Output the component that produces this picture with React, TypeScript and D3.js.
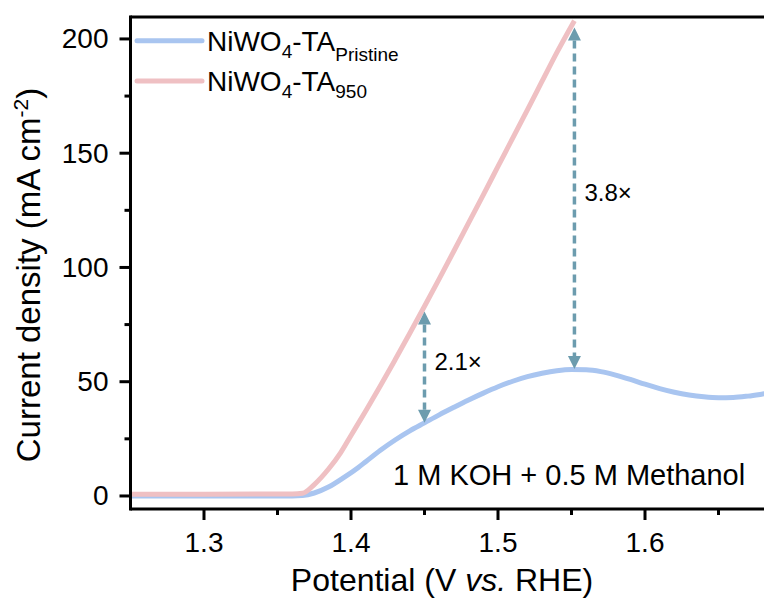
import React from "react";
import * as d3 from "d3";

// LSV data: potential (V vs. RHE) and current density (mA cm^-2)
const potentialPristine = [
  1.25, 1.3, 1.36, 1.367, 1.375, 1.385, 1.395, 1.405, 1.41, 1.42, 1.43, 1.44,
  1.45, 1.46, 1.47, 1.48, 1.49, 1.5, 1.51, 1.52, 1.53, 1.54, 1.55, 1.56, 1.57,
  1.58, 1.59, 1.6, 1.61, 1.62, 1.63, 1.64, 1.65, 1.66, 1.67, 1.68, 1.69, 1.7,
];
const currentPristine = [
  0, 0, 0, 0.2, 1.3, 4, 8, 12.5, 15, 20, 24.5, 28.5, 32, 35.5, 38.8, 42, 45,
  47.8, 50.2, 52.2, 53.7, 54.8, 55.3, 55.2, 54.4, 52.9, 51, 48.9, 47, 45.4,
  44.2, 43.4, 43, 43.1, 43.7, 44.6, 45.6, 46.6,
];

const potential950 = [
  1.25, 1.3, 1.36, 1.367, 1.375, 1.385, 1.393, 1.4, 1.41, 1.42, 1.43, 1.44,
  1.45, 1.46, 1.47, 1.48, 1.49, 1.5, 1.51, 1.52, 1.53, 1.54, 1.552,
];
const current950 = [
  0.8, 0.8, 0.9, 1.2, 5, 12, 19, 26.5, 37.2, 48.2, 59.6, 71.2, 83, 95, 107.2,
  119.5, 131.8, 144.2, 156.6, 169, 181.5, 194, 208,
];

const seriesNames = ["Pristine", "950"];
const seriesColors = ["#a9c5f0", "#efc0c3"];

const xMajorTicks = [1.3, 1.4, 1.5, 1.6];
const xMinorTicks = [1.35, 1.45, 1.55, 1.65];
const yMajorTicks = [0, 50, 100, 150, 200];
const yMinorTicks = [25, 75, 125, 175];

// Enhancement ratio markers
const ratioPotentials = [1.45, 1.552];
const ratioLow = [32, 55.6];
const ratioHigh = [80.7, 205];
const ratioLabels = ["2.1×", "3.8×"];

const W = 764;
const H = 599;
const FONT = "'Liberation Sans', Arial, Helvetica, sans-serif";
const ARROW = "#6c9cae";

export default function App() {
  const left = 130.5;
  const top = 17;
  const bottom = 509;
  const x = d3.scaleLinear().domain([1.25, 1.7]).range([left, left + 661.5]);
  const y = d3.scaleLinear().domain([-5.7, 209.6]).range([bottom, top]);

  const line = d3
    .line<[number, number]>()
    .x((d) => x(d[0]))
    .y((d) => y(d[1]))
    .curve(d3.curveMonotoneX);

  const pristine: [number, number][] = potentialPristine.map((v, i) => [v, currentPristine[i]]);
  const annealed: [number, number][] = potential950.map((v, i) => [v, current950[i]]);

  const head = 13;
  const halfW = 6.5;

  return (
    <svg
      width={W}
      height={H}
      style={{ position: "absolute", left: 0, top: 0, background: "#fff" }}
      fontFamily={FONT}
    >
      {/* curves */}
      <path d={line(pristine) ?? ""} fill="none" stroke={seriesColors[0]} strokeWidth={5} />
      <path d={line(annealed) ?? ""} fill="none" stroke={seriesColors[1]} strokeWidth={5} />

      {/* ratio arrows */}
      {ratioPotentials.map((v, i) => {
        const cx = x(v);
        const yt = y(ratioHigh[i]);
        const yb = y(ratioLow[i]);
        const mid = (yt + yb) / 2;
        return (
          <g key={i}>
            <line
              x1={cx}
              x2={cx}
              y1={yt + head}
              y2={yb - head}
              stroke={ARROW}
              strokeWidth={3.5}
              strokeDasharray="8,5"
            />
            <polygon
              points={`${cx},${yt} ${cx - halfW},${yt + head} ${cx + halfW},${yt + head}`}
              fill={ARROW}
            />
            <polygon
              points={`${cx},${yb} ${cx - halfW},${yb - head} ${cx + halfW},${yb - head}`}
              fill={ARROW}
            />
            <text x={cx + 10} y={mid + 3} fontSize={24} fill="#000">
              {ratioLabels[i]}
            </text>
          </g>
        );
      })}

      {/* frame: left axis, bottom axis, top line */}
      <line x1={left} x2={W} y1={top} y2={top} stroke="#000" strokeWidth={3} />
      <line x1={left} x2={W} y1={bottom} y2={bottom} stroke="#000" strokeWidth={3} />
      <line x1={left} x2={left} y1={top - 1.5} y2={bottom + 1.5} stroke="#000" strokeWidth={3} />

      {/* y ticks */}
      {yMajorTicks.map((t) => (
        <g key={"ym" + t}>
          <line x1={left - 11} x2={left} y1={y(t)} y2={y(t)} stroke="#000" strokeWidth={3} />
          <text x={left - 22} y={y(t)} fontSize={28} textAnchor="end" dominantBaseline="central">
            {t}
          </text>
        </g>
      ))}
      {yMinorTicks.map((t) => (
        <line key={"yn" + t} x1={left - 6} x2={left} y1={y(t)} y2={y(t)} stroke="#000" strokeWidth={3} />
      ))}

      {/* x ticks */}
      {xMajorTicks.map((t) => (
        <g key={"xm" + t}>
          <line x1={x(t)} x2={x(t)} y1={bottom} y2={bottom + 11} stroke="#000" strokeWidth={3} />
          <text x={x(t)} y={552} fontSize={28} textAnchor="middle">
            {d3.format(".1f")(t)}
          </text>
        </g>
      ))}
      {xMinorTicks.map((t) => (
        <line key={"xn" + t} x1={x(t)} x2={x(t)} y1={bottom} y2={bottom + 6} stroke="#000" strokeWidth={3} />
      ))}

      {/* axis titles */}
      <text x={442} y={591} fontSize={32} textAnchor="middle">
        Potential (V <tspan fontStyle="italic">vs.</tspan> RHE)
      </text>
      <g transform="translate(40,275) rotate(-90)">
        <text x={0} y={0} fontSize={33} textAnchor="middle">
          Current density (mA cm<tspan dy={-12} fontSize={21}>-2</tspan>
          <tspan dy={12}>)</tspan>
        </text>
      </g>

      {/* legend */}
      {seriesNames.map((name, i) => {
        const ly = 40.7 + i * 40.3;
        return (
          <g key={name}>
            <line
              x1={137}
              x2={202}
              y1={ly}
              y2={ly}
              stroke={seriesColors[i]}
              strokeWidth={5}
              strokeLinecap="round"
            />
            <text x={207} y={ly + 10} fontSize={28}>
              NiWO
              <tspan dy={7} fontSize={19}>4</tspan>
              <tspan dy={-7}>-TA</tspan>
              <tspan dy={i === 0 ? 10 : 7} fontSize={19}>{name}</tspan>
            </text>
          </g>
        );
      })}

      {/* electrolyte note */}
      <text x={393} y={485} fontSize={29}>
        1 M KOH + 0.5 M Methanol
      </text>
    </svg>
  );
}
